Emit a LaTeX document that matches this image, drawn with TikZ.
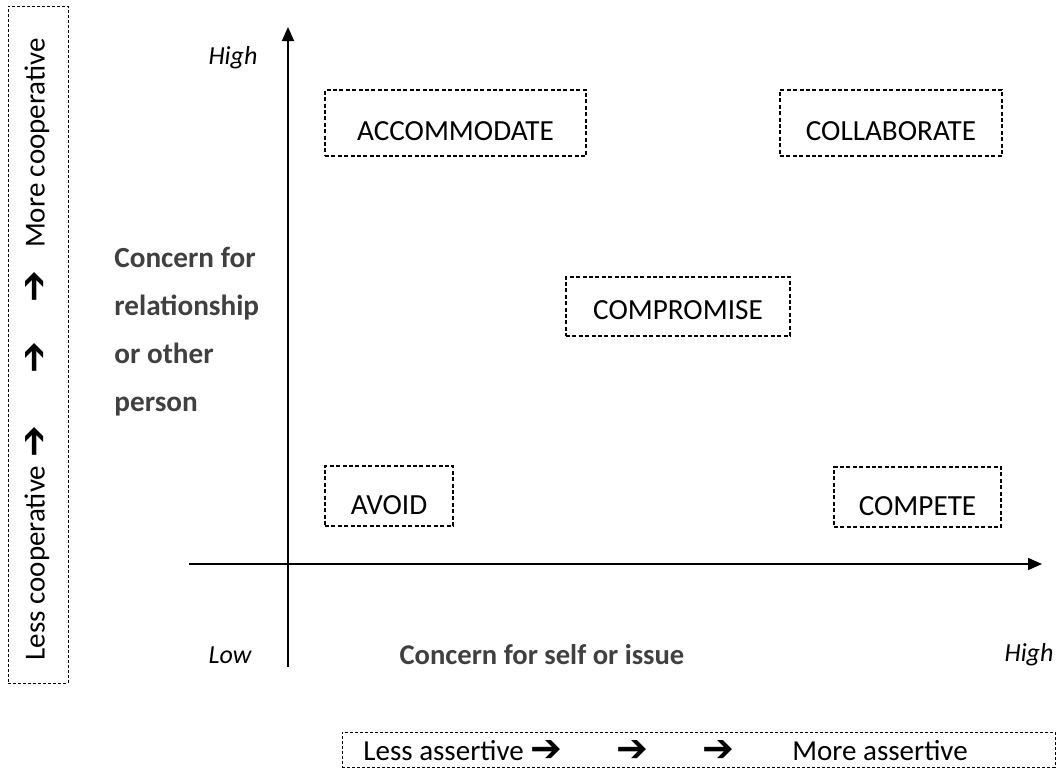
\documentclass[tikz,border=0pt]{standalone}
\usepackage{fontspec}
\setmainfont{Carlito}
\newfontfamily\symfont{DejaVu Sans}
\usetikzlibrary{arrows.meta, positioning}
\definecolor{labelgrey}{RGB}{64,64,64}
\tikzset{stylebox/.style = {draw, dashed, dash pattern=on 2pt off 1.2pt, line width=0.8pt,
		inner sep=0pt, text height=#1, text depth=0pt, font=\fontsize{14.6}{17}\selectfont},
	stylebox/.default = 17pt,
	axis/.style = {line width=0.9pt, -{Triangle[length=7pt,width=6pt]}},
	axislabel/.style = {font=\fontsize{14.3}{17}\selectfont\bfseries, text=labelgrey},
	endlabel/.style = {font=\fontsize{13}{16}\selectfont\itshape},
	scalebox/.style = {draw, dashed, dash pattern=on 1.5pt off 1pt, line width=0.5pt, inner sep=0pt},
	scaletext/.style = {font=\fontsize{14.5}{17}\selectfont},
	symarrow/.style = {font=\fontsize{19}{19}\selectfont\symfont\bfseries, inner sep=0pt}}
\begin{document}
\begin{tikzpicture}[x=0.5pt,y=-0.5pt]
\useasboundingbox (0,0) rectangle (1059,772);
% axes
\coordinate (ybot) at (288,667);
\coordinate (ytop) at (288,27);
\coordinate (xleft) at (189,564);
\coordinate (xright) at (1042,564);
\draw[axis] (ybot) -- (ytop);
\draw[axis] (xleft) -- (xright);
\node[endlabel] (yhigh) at (233,58) {High};
\node[endlabel] (xlow) at (230,655) {Low};
\node[endlabel] (xhigh) at (1029,655) {High};
\node[axislabel] (xtitle) at (542,655) {Concern for self or issue};
\node[axislabel, align=left, anchor=west, inner sep=0pt, font=\fontsize{14.6}{24}\selectfont\bfseries]
	(ytitle) at (114,332) {Concern for\\relationship\\or other\\person};
% styles
\node[stylebox, minimum width=130.5pt, minimum height=33pt] (accommodate) at (455.5,123) {ACCOMMODATE};
\node[stylebox, minimum width=111pt, minimum height=33pt] (collaborate) at (891,123) {COLLABORATE};
\node[stylebox=13pt, minimum width=112pt, minimum height=29.5pt] (compromise) at (678,306.5) {COMPROMISE};
\node[stylebox=18.5pt, minimum width=64pt, minimum height=30pt] (avoid) at (389,496) {AVOID};
\node[stylebox=18.5pt, minimum width=83.5pt, minimum height=30pt] (compete) at (917.5,497) {COMPETE};
% cooperativeness scale
\node[scalebox, minimum width=30pt, minimum height=338.5pt] (coopbox) at (38,344.5) {};
\node[scaletext, rotate=90] (lesscoop) at (37,563) {Less cooperative};
\node[symarrow, rotate=90] (coopa) at (36,442) {➔};
\node[symarrow, rotate=90] (coopb) at (36,358) {➔};
\node[symarrow, rotate=90] (coopc) at (36,287) {➔};
\node[scaletext, rotate=90] (morecoop) at (37,143) {More cooperative};
% assertiveness scale
\node[scalebox, minimum width=356.5pt, minimum height=17.5pt] (assertbox) at (698.5,749.5) {};
\node[scaletext, anchor=west, inner sep=0pt] (lessassert) at (363,751) {Less assertive};
\node[symarrow] (asserta) at (546,751) {➔};
\node[symarrow] (assertb) at (632,751) {➔};
\node[symarrow] (assertc) at (718,751) {➔};
\node[scaletext] (moreassert) at (880,751) {More assertive};
\end{tikzpicture}
\end{document}
